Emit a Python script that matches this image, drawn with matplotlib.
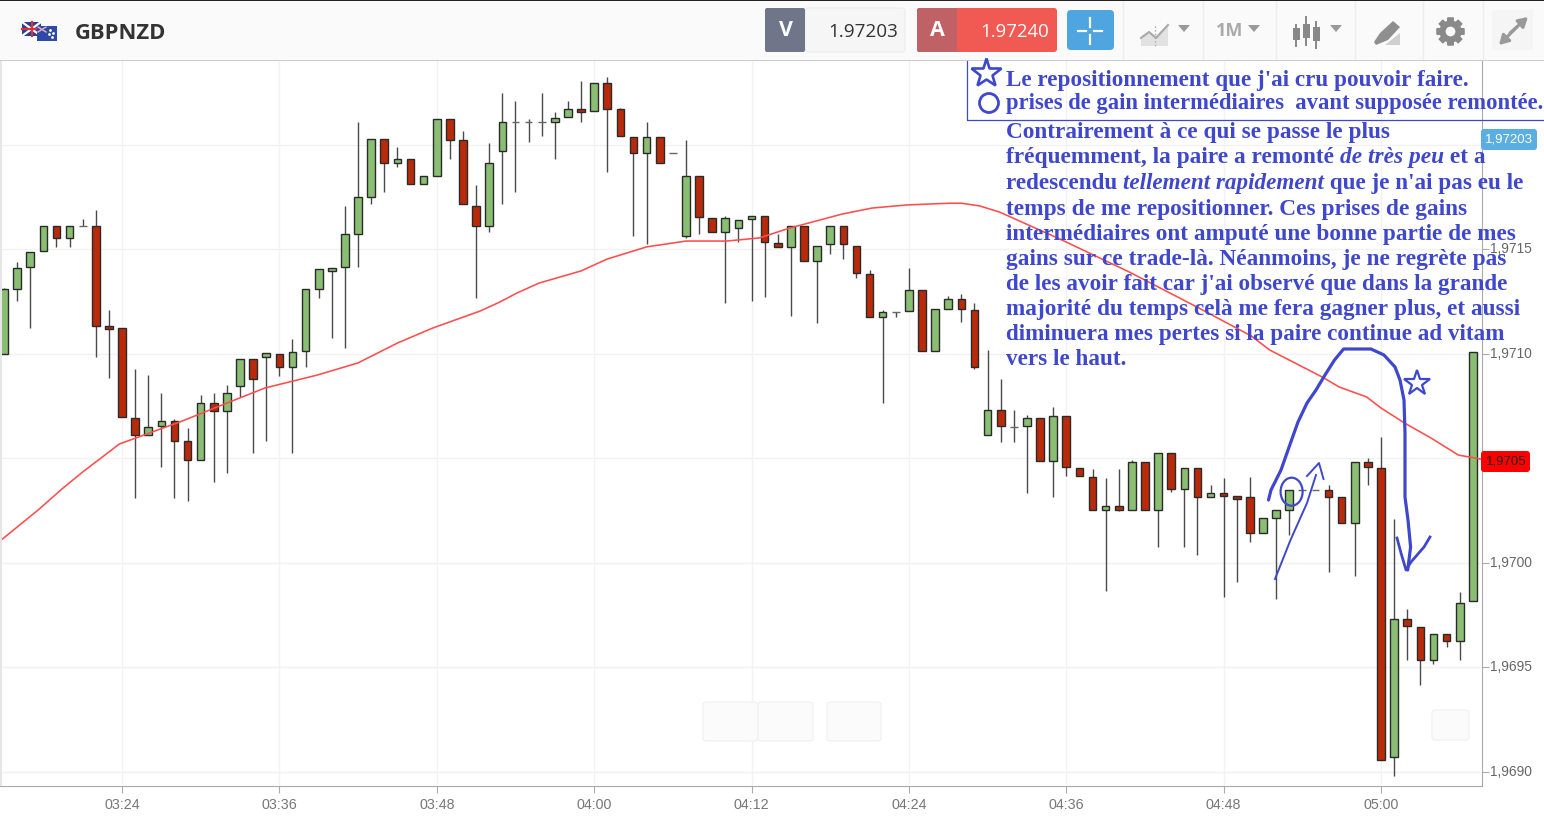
import numpy as np
import matplotlib
matplotlib.use('Agg')
import matplotlib.pyplot as plt
from matplotlib.patches import Rectangle, FancyBboxPatch, Ellipse, Polygon
from matplotlib.ticker import FuncFormatter
from matplotlib.transforms import ScaledTranslation

# Prices are kept as points (0.00001) around 1.9710
PRICE_BASE = 1.9710
POINT = 0.00001

# one candle per minute, 03:15 -> 05:07
FIRST_MINUTE = 195
opens = [0.0, 31.1, 41.5, 49.2, 61.1, 55.1, 61.1, 61.1, 13.3, 12.0,
         -31.1, -38.9, -34.7, -32.3, -41.9, -50.8, -23.9, -27.6, -15.4, -2.8,
         -1.9, 0.0, -6.5, 1.3, 31.1, 39.6, 41.3, 57.0, 75.0, 102.4,
         91.0, 92.9, 80.9, 85.1, 112.0, 102.0, 70.7, 61.1, 97.0, 110.9,
         110.9, 110.9, 110.9, 113.1, 116.8, 116.2, 129.4, 116.8, 103.6, 95.7,
         103.6, 95.9, 56.3, 85.1, 64.6, 58.3, 59.9, 64.2, 65.9, 52.7,
         50.9, 61.1, 44.4, 52.2, 61.1, 51.6, 37.8, 17.4, 19.8, 20.5,
         30.5, 1.3, 21.1, 25.9, 20.9, -39.0, -26.9, -35.3, -34.8, -31.0,
         -51.6, -29.9, -55.0, -59.1, -74.9, -73.0, -74.9, -51.9, -74.9, -47.8,
         -64.7, -55.0, -68.8, -66.9, -68.2, -68.8, -85.7, -78.5, -74.9, -65.3,
         -65.3, -65.3, -68.8, -80.9, -51.9, -55.0, -193.2, -126.9, -131.0, -146.7,
         -134.1, -137.7, -118.6]
highs = [31.5, 43.6, 48.5, 61.1, 61.1, 61.1, 64.2, 68.6, 20.8, 12.0,
         -7.5, -10.3, -19.1, -31.5, -35.5, -19.9, -19.1, -15.1, -2.8, -2.8,
         0.2, 0.0, 7.1, 30.7, 40.2, 40.9, 70.5, 110.6, 102.4, 102.4,
         98.6, 92.9, 85.1, 112.0, 112.0, 106.4, 80.6, 100.5, 124.5, 120.9,
         112.3, 124.5, 115.4, 120.8, 130.4, 129.4, 132.1, 117.6, 103.6, 110.6,
         103.6, 95.9, 102.1, 85.1, 64.6, 65.8, 64.0, 65.9, 65.9, 57.0,
         61.1, 61.1, 51.6, 61.1, 61.1, 51.6, 39.9, 20.8, 19.8, 40.7,
         30.5, 21.1, 27.5, 28.4, 24.0, 1.7, -12.0, -27.0, -29.6, -31.0,
         -25.4, -29.9, -55.0, -55.3, -59.4, -55.3, -51.0, -51.9, -47.8, -47.8,
         -55.0, -55.0, -62.9, -59.4, -68.2, -59.3, -78.9, -74.9, -65.3, -65.3,
         -65.3, -62.9, -68.8, -51.9, -50.2, -40.1, -79.2, -122.1, -131.0, -134.1,
         -134.1, -114.0, 0.7]
lows = [0.0, 25.2, 12.0, 49.2, 51.1, 51.1, 61.1, -1.6, -11.9, -30.6,
        -68.9, -38.9, -54.5, -68.9, -70.5, -50.8, -61.7, -57.4, -20.7, -47.8,
        -41.9, -10.8, -47.8, -6.3, 26.4, 7.2, 2.4, 41.3, 71.3, 77.4,
        89.4, 80.9, 80.9, 85.1, 92.9, 71.3, 26.4, 58.3, 71.5, 77.4,
        101.3, 104.0, 92.9, 113.1, 110.9, 116.2, 87.0, 104.2, 56.3, 52.2,
        91.0, 95.9, 55.1, 57.0, 58.3, 24.0, 53.5, 25.2, 27.2, 50.8,
        18.1, 44.4, 14.4, 47.4, 45.0, 35.9, 17.4, -23.9, 17.6, 20.5,
        1.3, 1.3, 21.1, 15.0, -7.6, -39.0, -42.5, -42.5, -66.6, -51.6,
        -68.8, -58.6, -58.6, -74.9, -113.6, -75.2, -74.9, -74.9, -92.8, -66.4,
        -92.8, -96.4, -68.8, -116.7, -109.5, -90.4, -85.7, -117.3, -86.8, -65.3,
        -65.3, -104.7, -80.9, -106.5, -62.9, -194.5, -202.2, -146.7, -158.6, -148.6,
        -140.6, -146.7, -118.6]
closes = [30.7, 40.7, 48.5, 61.1, 55.1, 61.1, 61.1, 13.1, 11.8, -30.6,
          -38.9, -35.4, -32.3, -41.9, -50.8, -23.9, -27.6, -19.1, -2.8, -12.1,
          0.2, -6.5, 0.7, 30.7, 40.2, 40.9, 57.0, 75.0, 102.4, 91.0,
          92.9, 80.9, 85.1, 112.0, 102.0, 71.3, 61.1, 91.0, 110.9, 110.9,
          110.9, 110.9, 112.6, 116.8, 115.5, 129.4, 116.8, 104.2, 95.7, 103.6,
          91.0, 95.9, 85.1, 65.4, 58.3, 64.6, 64.0, 65.9, 53.5, 50.8,
          61.1, 44.4, 51.6, 61.1, 52.2, 38.3, 17.4, 19.8, 19.8, 30.5,
          1.3, 21.1, 25.9, 21.1, -6.3, -26.9, -34.7, -35.3, -31.0, -51.6,
          -29.9, -54.5, -58.6, -74.9, -73.0, -74.9, -51.9, -74.9, -47.8, -64.7,
          -55.0, -68.8, -66.9, -68.3, -69.6, -85.7, -78.9, -74.9, -65.3, -65.3,
          -65.3, -68.8, -80.9, -51.9, -54.5, -194.5, -126.9, -130.5, -146.7, -134.1,
          -137.7, -119.2, 0.7]

# moving average
ma_minutes = [194.7, 197.6, 199.5, 201.0, 203.8, 208.6, 212.0, 214.9, 218.9, 222.0,
              225.0, 227.7, 231.3, 232.8, 234.1, 235.8, 239.0, 241.0, 244.0, 247.0,
              250.1, 252.6, 254.9, 258.9, 261.2, 263.9, 267.1, 268.0, 269.4, 270.9,
              275.5, 280.8, 286.1, 290.1, 291.5, 295.5, 296.8, 298.9, 300.0, 301.8,
              303.8, 305.9, 307.6]
ma_values = [-89.7, -74.9, -64.4, -56.7, -43.3, -32.3, -23.7, -16.5, -10.3, -4.5,
             5.0, 12.2, 20.3, 24.6, 28.9, 33.7, 39.5, 45.2, 51.0, 53.8,
             53.8, 55.3, 60.0, 66.7, 69.6, 71.1, 71.9, 71.9, 70.6, 67.7,
             54.8, 39.0, 21.8, 8.4, 1.7, -11.2, -16.0, -20.8, -26.1, -33.3,
             -40.4, -48.6, -50.5]

time_ticks = [204, 216, 228, 240, 252, 264, 276, 288, 300]
price_ticks = [1.9690, 1.9695, 1.9700, 1.9705, 1.9710, 1.9715, 1.9720]
hidden_price_labels = ['1,9705', '1,9720']  # sit under the price tags
symbol = 'GBPNZD'
bid_price = '1.97203'
ask_price = '1.97240'
last_bid_label = '1,97203'
ma_label = '1,9705'

legend_lines = ["Le repositionnement que j'ai cru pouvoir faire.",
                "prises de gain intermédiaires  avant supposée remontée."]
note_lines = [[("Contrairement à ce qui se passe le plus", 'normal')],
              [("fréquemment, la paire a remonté ", 'normal'), ("de très peu", 'italic'), (" et a", 'normal')],
              [("redescendu ", 'normal'), ("tellement rapidement", 'italic'), (" que je n'ai pas eu le", 'normal')],
              [("temps de me repositionner. Ces prises de gains", 'normal')],
              [("intermédiaires ont amputé une bonne partie de mes", 'normal')],
              [("gains sur ce trade-là. Néanmoins, je ne regrète pas", 'normal')],
              [("de les avoir fait car j'ai observé que dans la grande", 'normal')],
              [("majorité du temps celà me fera gagner plus, et aussi", 'normal')],
              [("diminuera mes pertes si la paire continue ad vitam", 'normal')],
              [("vers le haut.", 'normal')]]
note_right_ends = [1392, 1486, 1525, 1469, 1518, 1508, 1509, 1523, 1504, 1127]
note_baselines = [138, 163, 189, 215, 240, 265, 290, 315, 340, 365]

W, H = 1544, 822
INK = '#3f48cc'
GREEN = '#8abf73'
RED = '#b82a0a'
PX_PER_MINUTE = 13.115


def price_label(v, pos):
    s = ('%.4f' % v).replace('.', ',')
    return '' if s in hidden_price_labels else s


fig = plt.figure(figsize=(W / 100, H / 100), dpi=100, facecolor='white')
renderer = fig.canvas.get_renderer()

# chart area in pixels: x 0-1482, y 61-786
ax = fig.add_axes([0, (H - 786) / H, 1482 / W, (786 - 61) / H])
minutes = FIRST_MINUTE + np.arange(len(opens))
o = PRICE_BASE + np.array(opens) * POINT
h = PRICE_BASE + np.array(highs) * POINT
l = PRICE_BASE + np.array(lows) * POINT
c = PRICE_BASE + np.array(closes) * POINT

ax.vlines(minutes, l, h, color='#4a4a4a', lw=1.0, zorder=2)
up = c > o
down = c < o
flat = c == o
ax.bar(minutes[up], (c - o)[up], bottom=o[up], width=0.58, color=GREEN,
       edgecolor='#2a2a2a', linewidth=1.0, zorder=3)
ax.bar(minutes[down], (o - c)[down], bottom=c[down], width=0.58, color=RED,
       edgecolor='#2a2a2a', linewidth=1.0, zorder=3)
ax.hlines(o[flat], minutes[flat] - 0.3, minutes[flat] + 0.3, color='#666666', lw=1.0, zorder=3)
ax.plot(ma_minutes, PRICE_BASE + np.array(ma_values) * POINT, color='#ff4d4d', lw=1.15, zorder=4)

ax.set_xlim(204 - 122 / PX_PER_MINUTE, 204 + 1360 / PX_PER_MINUTE)
ax.set_ylim(PRICE_BASE + (353.5 - 786) / 2.09 * POINT, PRICE_BASE + (353.5 - 61) / 2.09 * POINT)
ax.set_xticks(time_ticks)
ax.set_yticks(price_ticks)
ax.xaxis.set_major_formatter(FuncFormatter(lambda v, p: '%02d:%02d' % (v // 60, v % 60)))
ax.yaxis.set_major_formatter(FuncFormatter(price_label))
ax.yaxis.tick_right()
ax.grid(True, color='#f2f2f2', lw=1.0)
ax.set_axisbelow(True)
ax.tick_params(axis='x', colors='#aaaaaa', length=5, width=0.8, labelsize=10.3, labelcolor='#777777', pad=3.5)
ax.tick_params(axis='y', colors='#aaaaaa', length=5, width=0.8, labelsize=9.9, labelcolor='#666666', pad=1)
for side in ['top', 'left']:
    ax.spines[side].set_visible(False)
for side in ['bottom', 'right']:
    ax.spines[side].set_color('#aaaaaa')
for t in ax.get_xticklabels() + ax.get_yticklabels():
    t.set_family('Liberation Sans')
# the price labels sit a little above their grid lines
for t in ax.get_yticklabels():
    t.set_transform(t.get_transform() + ScaledTranslation(0, 1.5 / 100, fig.dpi_scale_trans))

# overlay in pixel coordinates for the toolbar and the hand made notes
ov = fig.add_axes([0, 0, 1, 1], facecolor='none')
ov.set_xlim(0, W)
ov.set_ylim(H, 0)
ov.axis('off')


def box(x0, y0, x1, y1, color, edge='none', rounded=0, z=5, lw=0.8):
    if rounded:
        p = FancyBboxPatch((x0, y0), x1 - x0, y1 - y0, boxstyle='round,pad=0,rounding_size=%s' % rounded,
                           fc=color, ec=edge, lw=lw, zorder=z)
    else:
        p = Rectangle((x0, y0), x1 - x0, y1 - y0, fc=color, ec=edge, lw=lw, zorder=z)
    ov.add_patch(p)


def fitted_text(x, y, segments, right, family, color, weight='bold', z=9):
    # size the line so that it ends where it ends in the picture
    probe = []
    total = 0
    for s, style in segments:
        t = ov.text(x, y, s.replace(' ', '\u00a0'), fontsize=14, family=family, weight=weight, style=style)
        total += t.get_window_extent(renderer).width
        probe.append(t)
    for t in probe:
        t.remove()
    size = 14 * (right - x) / total
    for s, style in segments:
        t = ov.text(x, y, s.replace(' ', '\u00a0'), fontsize=size, family=family, weight=weight,
                    style=style, color=color, va='baseline', ha='left', zorder=z)
        x += t.get_window_extent(renderer).width


# toolbar
box(0, 0, W, 60, '#fafafa')
box(0, 0, W, 1.5, '#222222', z=6)
box(0, 60, W, 61, '#cccccc', z=6)
box(0, 61, 2, 786, '#e6e6e6', z=1)

# flags
box(22, 22, 41, 36, '#2b3f8f', z=6)
ov.plot([22, 41], [22, 36], color='white', lw=1.6, zorder=6)
ov.plot([22, 41], [36, 22], color='white', lw=1.6, zorder=6)
ov.plot([31.5, 31.5], [22, 36], color='#d8323c', lw=1.6, zorder=6)
ov.plot([22, 41], [29, 29], color='#d8323c', lw=1.6, zorder=6)
box(37, 26, 57, 41, '#2f4aa6', z=7)
ov.plot([38, 46], [27, 32], color='#e8b0c0', lw=1.0, zorder=7)
ov.plot([38, 46], [32, 27], color='#e8b0c0', lw=1.0, zorder=7)
ov.plot([50, 53, 49, 52], [30, 33, 34, 37], ls='none', marker='.', ms=2, color='white', zorder=7)
fitted_text(75, 39, [(symbol, 'normal')], 167, 'Open Sans', '#333333')

# bid / ask
box(805, 8, 905, 52, '#f6f6f6', edge='#ececec', rounded=3)
box(765, 8, 805, 52, '#6f768a', rounded=2, z=6)
ov.text(786, 31, 'V', color='white', fontsize=15.5, family='Open Sans', weight='bold', ha='center', va='center', zorder=7)
fitted_text(828, 37, [(bid_price, 'normal')], 898, 'Open Sans', '#333333', weight='normal')
box(917, 8, 1057, 52, '#f05a52', rounded=3)
box(917, 8, 957, 52, '#c06265', rounded=2, z=6)
ov.text(937, 31, 'A', color='white', fontsize=15.5, family='Open Sans', weight='bold', ha='center', va='center', zorder=7)
fitted_text(980, 37, [(ask_price, 'normal')], 1049, 'Open Sans', 'white', weight='normal')
box(1067, 10, 1114, 50, '#4fa5e0', rounded=4)
for xs, ys in [([1078, 1086], [31, 31]), ([1094, 1102], [31, 31]), ([1090, 1090], [18, 27]), ([1090, 1090], [35, 44])]:
    ov.plot(xs, ys, color='white', lw=1.6, zorder=6)

for sep in [1123, 1203, 1276, 1355, 1423, 1483]:
    ov.plot([sep, sep], [2, 60], color='#eeeeee', lw=1.0, zorder=5)

# toolbar icons
ov.add_patch(Polygon([(1141, 46), (1141, 36), (1149, 32), (1156, 36), (1168, 24), (1168, 46)], fc='#e2e2e2', ec='none', zorder=6))
ov.plot([1141, 1149, 1156, 1168], [38, 32, 38, 25], color='#aaaaaa', lw=1.5, zorder=6)
ov.plot([1155, 1155], [26, 46], color='#aaaaaa', lw=1.0, ls=':', zorder=6)
for tx in [1184, 1254, 1336]:
    ov.add_patch(Polygon([(tx - 6, 25), (tx + 6, 25), (tx, 32)], fc='#999999', ec='none', zorder=6))
ov.text(1230, 31, '1M', color='#aaaaaa', fontsize=13, family='Open Sans', weight='bold', ha='center', va='center', zorder=6)
for cx, y0, y1, w0, w1 in [(1296, 28, 40, 25, 46), (1306, 24, 38, 17, 45), (1316, 27, 41, 22, 48)]:
    ov.plot([cx, cx], [w0, w1], color='#888888', lw=1.4, zorder=6)
    box(cx - 3.5, y0, cx + 3.5, y1, '#888888', z=6)
ov.add_patch(Polygon([(1374, 42), (1380, 33), (1393, 21), (1400, 27), (1388, 40), (1376, 45)], fc='#8f8f8f', ec='none', zorder=6))
ov.add_patch(Polygon([(1385, 45), (1400, 33), (1400, 45)], fc='#cfcfcf', ec='none', zorder=6))
ov.plot([1450], [31], marker=(8, 2, 0), ms=20, mew=4.5, color='#8a8a8a', zorder=6)
ov.plot([1450], [31], marker='o', ms=15, color='#8a8a8a', zorder=6)
ov.plot([1450], [31], marker='o', ms=6, color='#fafafa', zorder=7)
box(1492, 10, 1533, 50, '#f5f5f5')
for a, b in [((1510, 33), (1528, 17)), ((1517, 27), (1499, 45))]:
    ov.annotate('', xy=b, xytext=a, zorder=6,
                arrowprops=dict(arrowstyle='-|>,head_width=0.32,head_length=0.55', color='#999999', lw=2.2, shrinkA=0, shrinkB=0))

# white buttons on the chart
for x0, x1, y0, y1 in [(703, 758, 702, 741), (758, 813, 702, 741), (827, 881, 702, 741), (1432, 1469, 710, 740)]:
    box(x0, y0, x1, y1, '#fbfbfb', edge='#efefef', rounded=3, z=4)

# price tags on the axis
box(1481, 129, 1537, 150, '#5aaee0', rounded=3)
ov.text(1509, 139.5, last_bid_label, color='white', fontsize=9.5, family='Liberation Sans', ha='center', va='center', zorder=6)
box(1481, 451, 1530, 472, '#ff0000', rounded=3)
ov.text(1506, 461.5, ma_label, color='#222222', fontsize=9.5, family='Liberation Sans', ha='center', va='center', zorder=6)

# legend box and notes
ov.plot([967, 967, W], [61, 120.5, 120.5], color=INK, lw=0.9, zorder=8)
ov.plot([986], [73], marker='*', ms=22, mfc='none', mec=INK, mew=1.9, zorder=9)
ov.add_patch(Ellipse((989, 103), 19, 19, fc='none', ec=INK, lw=2.0, zorder=9))
fitted_text(1006, 86, [(legend_lines[0], 'normal')], 1470, 'Liberation Serif', INK)
fitted_text(1006, 109, [(legend_lines[1], 'normal')], 1544, 'Liberation Serif', INK)
for segs, end, base in zip(note_lines, note_right_ends, note_baselines):
    fitted_text(1006, base, segs, end, 'Liberation Serif', INK)

# pen strokes
ov.plot([1268.5, 1271, 1281, 1290.5, 1298, 1307, 1316, 1325, 1334.5, 1343.6, 1371, 1384, 1395, 1400, 1404,
         1405, 1405, 1408, 1410.6, 1407.7],
        [500, 490, 470, 443, 422, 403, 390, 375, 360, 349, 349, 355, 367, 380, 400,
         433, 497, 520, 547, 570], color=INK, lw=2.3, zorder=8, solid_capstyle='round')
ov.plot([1397, 1401, 1406, 1411, 1424, 1430], [538, 553, 570, 562, 547, 537], color=INK, lw=2.0, zorder=8)
ov.plot([1275, 1290.5, 1307, 1316], [579, 540, 503, 475], color=INK, lw=1.4, zorder=8)
ov.plot([1307, 1319, 1323.5], [476, 463, 479], color=INK, lw=1.4, zorder=8)
ov.add_patch(Ellipse((1291.6, 491.7), 22, 28, fc='none', ec=INK, lw=1.6, zorder=8))
ov.plot([1417], [383], marker='*', ms=19, mfc='none', mec=INK, mew=1.6, zorder=8)

fig.savefig('out.png', dpi=100)
